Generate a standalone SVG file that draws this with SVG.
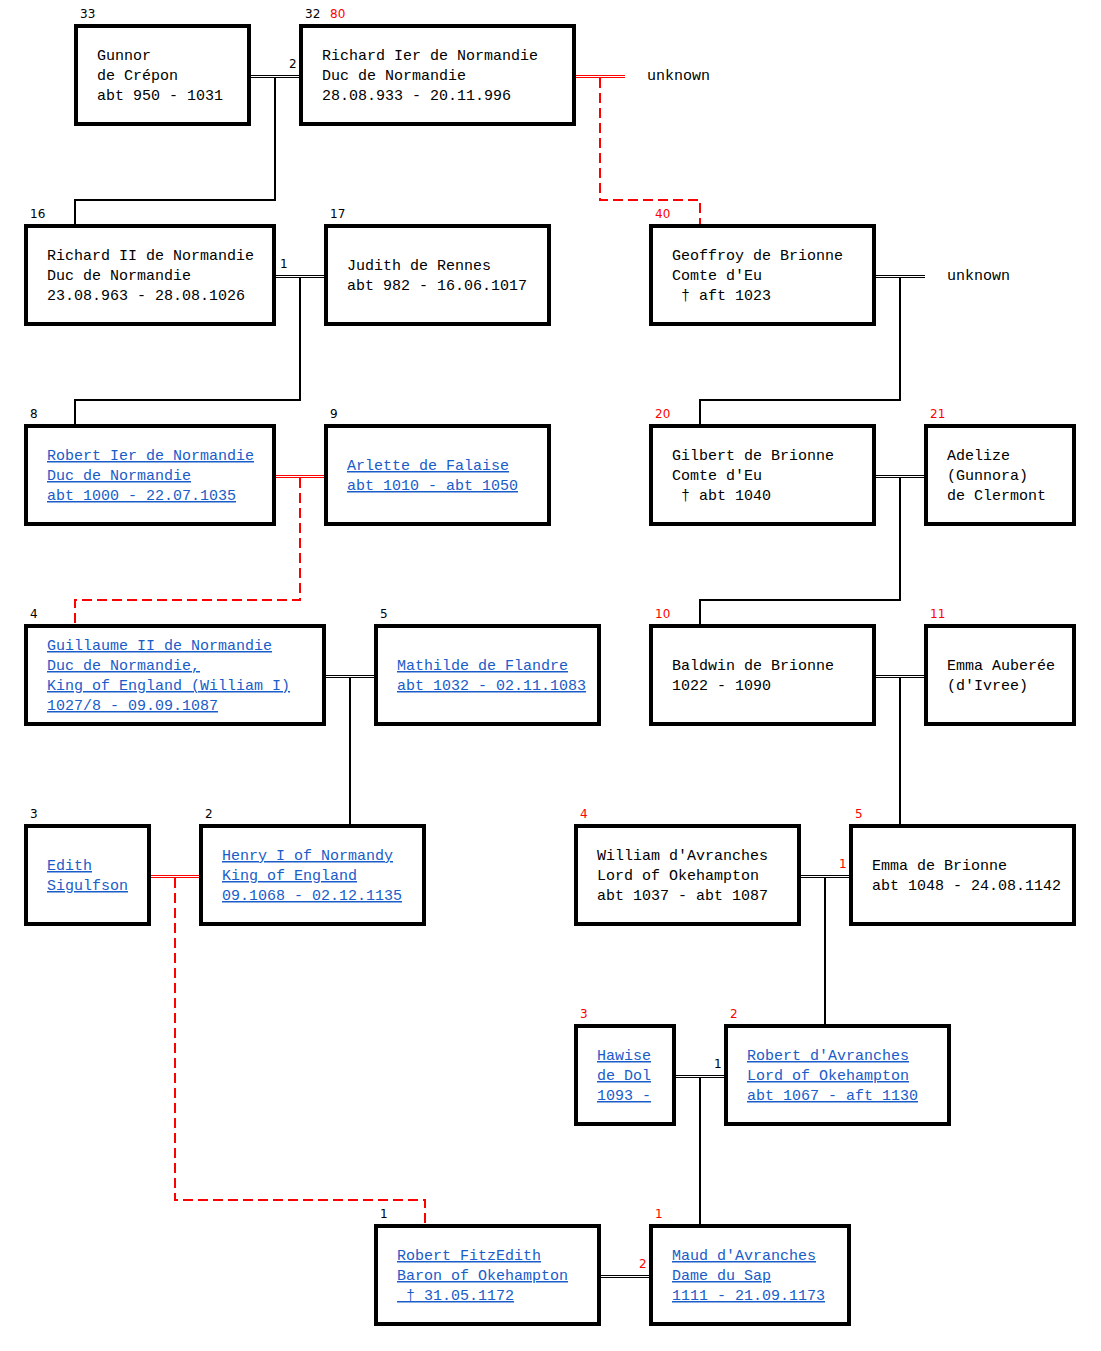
<svg xmlns="http://www.w3.org/2000/svg" width="1101" height="1351" viewBox="0 0 1101 1351">
<style>
.box{fill:#fff;stroke:#000;stroke-width:4}
.t{font-family:"Liberation Mono","Courier New",monospace;font-size:15px;fill:#000}
.lk{fill:#1a5cc8;text-decoration:underline}
.num{font-family:"DejaVu Sans",Verdana,sans-serif;font-size:12px;fill:#000}
.red{fill:#f00}
.dbl{stroke:#000;stroke-width:1}
.dblr{stroke:#f00;stroke-width:1}
.ln{fill:none;stroke:#000;stroke-width:2}
.dash{fill:none;stroke:#f00;stroke-width:2;stroke-dasharray:10 5}
</style>
<rect width="1101" height="1351" fill="#fff"/>
<g id="connectors">
  <path class="dbl" d="M250 75.5H300M250 77.5H300"/>
  <path class="dblr" d="M575 75.5H625M575 77.5H625"/>
  <path class="dbl" d="M275 275.5H325M275 277.5H325"/>
  <path class="dbl" d="M875 275.5H925M875 277.5H925"/>
  <path class="dblr" d="M275 475.5H325M275 477.5H325"/>
  <path class="dbl" d="M875 475.5H925M875 477.5H925"/>
  <path class="dbl" d="M325 675.5H375M325 677.5H375"/>
  <path class="dbl" d="M875 675.5H925M875 677.5H925"/>
  <path class="dblr" d="M150 875.5H200M150 877.5H200"/>
  <path class="dbl" d="M800 875.5H850M800 877.5H850"/>
  <path class="dbl" d="M675 1075.5H725M675 1077.5H725"/>
  <path class="dbl" d="M600 1275.5H650M600 1277.5H650"/>
  <path class="ln" d="M275 78V200H75V225"/>
  <path class="ln" d="M300 278V400H75V425"/>
  <path class="ln" d="M900 278V400H700V425"/>
  <path class="ln" d="M900 478V600H700V625"/>
  <path class="ln" d="M350 678V825"/>
  <path class="ln" d="M900 678V825"/>
  <path class="ln" d="M825 878V1025"/>
  <path class="ln" d="M700 1078V1225"/>
  <path class="dash" d="M600 78V200H700V225"/>
  <path class="dash" d="M300 478V600H75V625"/>
  <path class="dash" d="M175 878V1200H425V1225"/>
  <text class="num" x="289" y="68">2</text>
  <text class="num" x="280" y="268">1</text>
  <text class="num red" x="839" y="868">1</text>
  <text class="num" x="714" y="1068">1</text>
  <text class="num red" x="639" y="1268">2</text>
  <text class="t" x="647" y="80">unknown</text>
  <text class="t" x="947" y="280">unknown</text>
</g>
<g id="n33">
  <rect class="box" x="76" y="26" width="173" height="98"/>
  <text class="num" x="80" y="18">33</text>
  <text class="t" x="97" y="60">Gunnor</text>
  <text class="t" x="97" y="80">de Crépon</text>
  <text class="t" x="97" y="100">abt 950 - 1031</text>
</g>
<g id="n32">
  <rect class="box" x="301" y="26" width="273" height="98"/>
  <text class="num" x="305" y="18">32</text>
  <text class="num red" x="330" y="18">80</text>
  <text class="t" x="322" y="60">Richard Ier de Normandie</text>
  <text class="t" x="322" y="80">Duc de Normandie</text>
  <text class="t" x="322" y="100">28.08.933 - 20.11.996</text>
</g>
<g id="n16">
  <rect class="box" x="26" y="226" width="248" height="98"/>
  <text class="num" x="30" y="218">16</text>
  <text class="t" x="47" y="260">Richard II de Normandie</text>
  <text class="t" x="47" y="280">Duc de Normandie</text>
  <text class="t" x="47" y="300">23.08.963 - 28.08.1026</text>
</g>
<g id="n17">
  <rect class="box" x="326" y="226" width="223" height="98"/>
  <text class="num" x="330" y="218">17</text>
  <text class="t" x="347" y="270">Judith de Rennes</text>
  <text class="t" x="347" y="290">abt 982 - 16.06.1017</text>
</g>
<g id="n40">
  <rect class="box" x="651" y="226" width="223" height="98"/>
  <text class="num red" x="655" y="218">40</text>
  <text class="t" x="672" y="260">Geoffroy de Brionne</text>
  <text class="t" x="672" y="280">Comte d'Eu</text>
  <text class="t" x="672" y="300" xml:space="preserve"> † aft 1023</text>
</g>
<g id="n8">
  <rect class="box" x="26" y="426" width="248" height="98"/>
  <text class="num" x="30" y="418">8</text>
  <text class="t lk" x="47" y="460">Robert Ier de Normandie</text>
  <text class="t lk" x="47" y="480">Duc de Normandie</text>
  <text class="t lk" x="47" y="500">abt 1000 - 22.07.1035</text>
</g>
<g id="n9">
  <rect class="box" x="326" y="426" width="223" height="98"/>
  <text class="num" x="330" y="418">9</text>
  <text class="t lk" x="347" y="470">Arlette de Falaise</text>
  <text class="t lk" x="347" y="490">abt 1010 - abt 1050</text>
</g>
<g id="n20">
  <rect class="box" x="651" y="426" width="223" height="98"/>
  <text class="num red" x="655" y="418">20</text>
  <text class="t" x="672" y="460">Gilbert de Brionne</text>
  <text class="t" x="672" y="480">Comte d'Eu</text>
  <text class="t" x="672" y="500" xml:space="preserve"> † abt 1040</text>
</g>
<g id="n21">
  <rect class="box" x="926" y="426" width="148" height="98"/>
  <text class="num red" x="930" y="418">21</text>
  <text class="t" x="947" y="460">Adelize</text>
  <text class="t" x="947" y="480">(Gunnora)</text>
  <text class="t" x="947" y="500">de Clermont</text>
</g>
<g id="n4">
  <rect class="box" x="26" y="626" width="298" height="98"/>
  <text class="num" x="30" y="618">4</text>
  <text class="t lk" x="47" y="650">Guillaume II de Normandie</text>
  <text class="t lk" x="47" y="670">Duc de Normandie,</text>
  <text class="t lk" x="47" y="690">King of England (William I)</text>
  <text class="t lk" x="47" y="710">1027/8 - 09.09.1087</text>
</g>
<g id="n5">
  <rect class="box" x="376" y="626" width="223" height="98"/>
  <text class="num" x="380" y="618">5</text>
  <text class="t lk" x="397" y="670">Mathilde de Flandre</text>
  <text class="t lk" x="397" y="690">abt 1032 - 02.11.1083</text>
</g>
<g id="n10">
  <rect class="box" x="651" y="626" width="223" height="98"/>
  <text class="num red" x="655" y="618">10</text>
  <text class="t" x="672" y="670">Baldwin de Brionne</text>
  <text class="t" x="672" y="690">1022 - 1090</text>
</g>
<g id="n11">
  <rect class="box" x="926" y="626" width="148" height="98"/>
  <text class="num red" x="930" y="618">11</text>
  <text class="t" x="947" y="670">Emma Auberée</text>
  <text class="t" x="947" y="690">(d'Ivree)</text>
</g>
<g id="n3">
  <rect class="box" x="26" y="826" width="123" height="98"/>
  <text class="num" x="30" y="818">3</text>
  <text class="t lk" x="47" y="870">Edith</text>
  <text class="t lk" x="47" y="890">Sigulfson</text>
</g>
<g id="n2">
  <rect class="box" x="201" y="826" width="223" height="98"/>
  <text class="num" x="205" y="818">2</text>
  <text class="t lk" x="222" y="860">Henry I of Normandy</text>
  <text class="t lk" x="222" y="880">King of England</text>
  <text class="t lk" x="222" y="900">09.1068 - 02.12.1135</text>
</g>
<g id="n4r">
  <rect class="box" x="576" y="826" width="223" height="98"/>
  <text class="num red" x="580" y="818">4</text>
  <text class="t" x="597" y="860">William d'Avranches</text>
  <text class="t" x="597" y="880">Lord of Okehampton</text>
  <text class="t" x="597" y="900">abt 1037 - abt 1087</text>
</g>
<g id="n5r">
  <rect class="box" x="851" y="826" width="223" height="98"/>
  <text class="num red" x="855" y="818">5</text>
  <text class="t" x="872" y="870">Emma de Brionne</text>
  <text class="t" x="872" y="890">abt 1048 - 24.08.1142</text>
</g>
<g id="n3r">
  <rect class="box" x="576" y="1026" width="98" height="98"/>
  <text class="num red" x="580" y="1018">3</text>
  <text class="t lk" x="597" y="1060">Hawise</text>
  <text class="t lk" x="597" y="1080">de Dol</text>
  <text class="t lk" x="597" y="1100">1093 -</text>
</g>
<g id="n2r">
  <rect class="box" x="726" y="1026" width="223" height="98"/>
  <text class="num red" x="730" y="1018">2</text>
  <text class="t lk" x="747" y="1060">Robert d'Avranches</text>
  <text class="t lk" x="747" y="1080">Lord of Okehampton</text>
  <text class="t lk" x="747" y="1100">abt 1067 - aft 1130</text>
</g>
<g id="n1">
  <rect class="box" x="376" y="1226" width="223" height="98"/>
  <text class="num" x="380" y="1218">1</text>
  <text class="t lk" x="397" y="1260">Robert FitzEdith</text>
  <text class="t lk" x="397" y="1280">Baron of Okehampton</text>
  <text class="t lk" x="397" y="1300" xml:space="preserve"> † 31.05.1172</text>
</g>
<g id="n1r">
  <rect class="box" x="651" y="1226" width="198" height="98"/>
  <text class="num red" x="655" y="1218">1</text>
  <text class="t lk" x="672" y="1260">Maud d'Avranches</text>
  <text class="t lk" x="672" y="1280">Dame du Sap</text>
  <text class="t lk" x="672" y="1300">1111 - 21.09.1173</text>
</g>
</svg>
